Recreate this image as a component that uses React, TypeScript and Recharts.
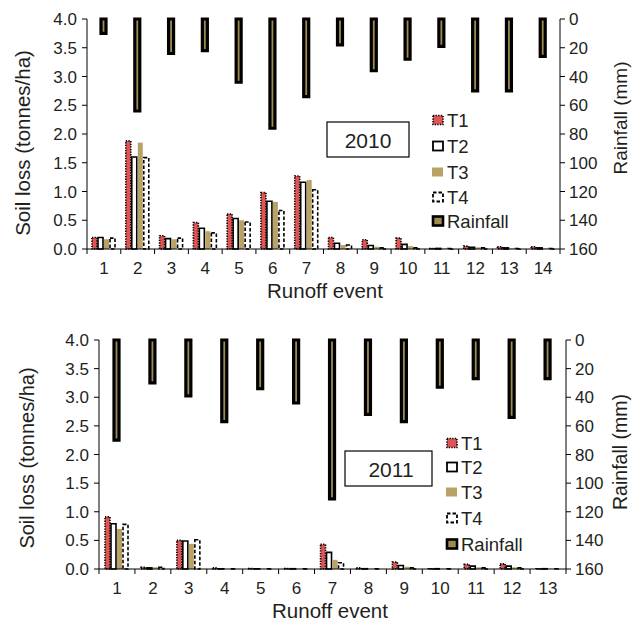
import React from 'react';
import { ComposedChart, Bar, XAxis, YAxis } from 'recharts';

// ---- 2010 season ----
const events2010 = ['1', '2', '3', '4', '5', '6', '7', '8', '9', '10', '11', '12', '13', '14'];
const t1_2010 = [0.2, 1.88, 0.23, 0.46, 0.61, 0.98, 1.27, 0.2, 0.16, 0.19, 0.01, 0.05, 0.04, 0.04];
const t2_2010 = [0.2, 1.6, 0.18, 0.36, 0.53, 0.83, 1.16, 0.1, 0.06, 0.08, 0.01, 0.03, 0.02, 0.02];
const t3_2010 = [0.17, 1.85, 0.17, 0.31, 0.5, 0.82, 1.2, 0.07, 0.04, 0.05, 0.01, 0.03, 0.01, 0.01];
const t4_2010 = [0.19, 1.59, 0.19, 0.28, 0.47, 0.67, 1.03, 0.07, 0.02, 0.02, 0.01, 0.02, 0.01, 0.01];
const rain2010 = [10, 64, 24, 22, 44, 76, 54, 18, 36, 28, 19, 50, 50, 26];

// ---- 2011 season ----
const events2011 = ['1', '2', '3', '4', '5', '6', '7', '8', '9', '10', '11', '12', '13'];
const t1_2011 = [0.91, 0.03, 0.5, 0.02, 0.01, 0.01, 0.43, 0.02, 0.12, 0.005, 0.08, 0.09, 0.005];
const t2_2011 = [0.79, 0.02, 0.49, 0.003, 0.005, 0.005, 0.29, 0.005, 0.06, 0.005, 0.05, 0.05, 0.005];
const t3_2011 = [0.7, 0.03, 0.44, 0.003, 0.005, 0.005, 0.16, 0.005, 0.04, 0.005, 0.03, 0.03, 0.005];
const t4_2011 = [0.78, 0.03, 0.51, 0.003, 0.005, 0.005, 0.11, 0.005, 0.02, 0.005, 0.02, 0.02, 0.005];
const rain2011 = [70, 30, 39, 57, 34, 44, 111, 52, 57, 33, 27, 54, 27];

// axis ticks
const soilTicks = [0, 0.5, 1, 1.5, 2, 2.5, 3, 3.5, 4];
const rainTicks = [0, 20, 40, 60, 80, 100, 120, 140, 160];
const legendNames = ['T1', 'T2', 'T3', 'T4', 'Rainfall'];

const FONT = '"Liberation Sans", Arial, Helvetica, sans-serif';
const INK = '#231f20';
const RED = '#e05454';
const KHAKI = '#b8a265';
const RAIN = '#9f8b4f';

const makeRows = (events: string[], t1: number[], t2: number[], t3: number[], t4: number[], rain: number[]) =>
  events.map((e, i) => ({ event: e, t1: t1[i], t2: t2[i], t3: t3[i], t4: t4[i], rain: rain[i] }));

const rows2010 = makeRows(events2010, t1_2010, t2_2010, t3_2010, t4_2010, rain2010);
const rows2011 = makeRows(events2011, t1_2011, t2_2011, t3_2011, t4_2011, rain2011);

// x ticks sit between the categories, label in the middle
const BoundaryTick = (props: any) => {
  const { x, y, payload, band, count } = props;
  const index = props.index ?? payload.index;
  return (
    <g>
      <line x1={x - band / 2} x2={x - band / 2} y1={y} y2={y + 5} stroke="#000" />
      {index === count - 1 && <line x1={x + band / 2} x2={x + band / 2} y1={y} y2={y + 5} stroke="#000" />}
      <text x={x} y={y + 25} textAnchor="middle" fontSize={17} fill={INK} fontFamily={FONT}>
        {payload.value}
      </text>
    </g>
  );
};

type PanelProps = {
  rows: any[];
  height: number;
  margin: { top: number; right: number; bottom: number; left: number };
};

const Panel = ({ rows, height, margin }: PanelProps) => {
  const plotW = 633 - margin.left - margin.right - 47 - 50;
  const band = plotW / rows.length;
  const tickStyle = { fontSize: 17, fill: INK, fontFamily: FONT };
  return (
    <ComposedChart width={633} height={height} data={rows} margin={margin} barGap={1}>
      <XAxis
        xAxisId="soil"
        dataKey="event"
        height={30}
        interval={0}
        tickLine={false}
        tickSize={0}
        tickMargin={0}
        axisLine={{ stroke: '#000' }}
        tick={<BoundaryTick band={band} count={rows.length} />}
      />
      <XAxis xAxisId="rain" dataKey="event" orientation="top" height={0} tick={false} tickLine={false} axisLine={{ stroke: '#000' }} />
      <YAxis
        yAxisId="soil"
        width={47}
        domain={[0, 4]}
        ticks={soilTicks}
        interval={0}
        tickSize={5}
        tickMargin={5}
        tickFormatter={(v: number) => v.toFixed(1)}
        axisLine={{ stroke: '#000' }}
        tickLine={{ stroke: '#000' }}
        tick={tickStyle}
      />
      <YAxis
        yAxisId="rain"
        orientation="right"
        reversed
        width={50}
        domain={[0, 160]}
        ticks={rainTicks}
        interval={0}
        tickSize={5}
        tickMargin={4}
        axisLine={{ stroke: '#000' }}
        tickLine={{ stroke: '#000' }}
        tick={tickStyle}
      />
      <Bar xAxisId="soil" yAxisId="soil" dataKey="t1" barSize={5} fill={RED} stroke="#000" strokeWidth={1.6} strokeDasharray="1.3 1.3" isAnimationActive={false} />
      <Bar xAxisId="soil" yAxisId="soil" dataKey="t2" barSize={5} fill="#fff" stroke="#000" strokeWidth={1.6} isAnimationActive={false} />
      <Bar xAxisId="soil" yAxisId="soil" dataKey="t3" barSize={5} fill={KHAKI} isAnimationActive={false} />
      <Bar xAxisId="soil" yAxisId="soil" dataKey="t4" barSize={5} fill="#fff" stroke="#000" strokeWidth={1.6} strokeDasharray="3.5 2" isAnimationActive={false} />
      <Bar xAxisId="rain" yAxisId="rain" dataKey="rain" barSize={5} fill={RAIN} stroke="#000" strokeWidth={3.2} isAnimationActive={false} />
    </ComposedChart>
  );
};

const LegendIcon = ({ name, x, cy }: { name: string; x: number; cy: number }) => {
  const y = cy - 4.5;
  if (name === 'T1') return <rect x={x} y={y} width={10} height={9} fill={RED} stroke="#000" strokeWidth={1.6} strokeDasharray="1.3 1.3" />;
  if (name === 'T2') return <rect x={x} y={y} width={10} height={9} fill="#fff" stroke="#000" strokeWidth={1.8} />;
  if (name === 'T3') return <rect x={x - 1} y={y} width={11} height={9} fill={KHAKI} />;
  if (name === 'T4') return <rect x={x} y={y} width={10} height={9} fill="#fff" stroke="#000" strokeWidth={1.8} strokeDasharray="3.5 2" />;
  return <rect x={x} y={y} width={10} height={9} fill={RAIN} stroke="#000" strokeWidth={2.6} />;
};

const Legend = ({ x, ys }: { x: number; ys: number[] }) => (
  <g>
    {legendNames.map((n, i) => (
      <g key={n}>
        <LegendIcon name={n} x={x} cy={ys[i]} />
        <text x={x + 14} y={ys[i]} dominantBaseline="central" fontSize={18.5} fill={INK} fontFamily={FONT}>
          {n}
        </text>
      </g>
    ))}
  </g>
);

const Overlay = () => (
  <svg width={633} height={623} style={{ position: 'absolute', left: 0, top: 0, pointerEvents: 'none' }}>
    {/* top panel texts */}
    <text transform="translate(22,143) rotate(-90)" textAnchor="middle" dominantBaseline="central" fontSize={20.5} fill={INK} fontFamily={FONT}>
      Soil loss (tonnes/ha)
    </text>
    <text transform="translate(620,118) rotate(-90)" textAnchor="middle" dominantBaseline="central" fontSize={19} fill={INK} fontFamily={FONT}>
      Rainfall (mm)
    </text>
    <text x={325} y={298} textAnchor="middle" fontSize={20.5} fill={INK} fontFamily={FONT}>
      Runoff event
    </text>
    <rect x={327} y={122} width={82} height={35} fill="#fff" stroke="#000" strokeWidth={1.2} />
    <text x={368} y={140} textAnchor="middle" dominantBaseline="central" fontSize={21} fill={INK} fontFamily={FONT}>
      2010
    </text>
    <Legend x={433} ys={[120, 146, 172, 197, 221]} />

    {/* bottom panel texts */}
    <text transform="translate(27,458) rotate(-90)" textAnchor="middle" dominantBaseline="central" fontSize={20} fill={INK} fontFamily={FONT}>
      Soil loss (tonnes/ha)
    </text>
    <text transform="translate(620,452) rotate(-90)" textAnchor="middle" dominantBaseline="central" fontSize={19.5} fill={INK} fontFamily={FONT}>
      Rainfall (mm)
    </text>
    <text x={330} y={618} textAnchor="middle" fontSize={20.5} fill={INK} fontFamily={FONT}>
      Runoff event
    </text>
    <rect x={345} y={451} width={87} height={35} fill="#fff" stroke="#000" strokeWidth={1.2} />
    <text x={391} y={469} textAnchor="middle" dominantBaseline="central" fontSize={21} fill={INK} fontFamily={FONT}>
      2011
    </text>
    <Legend x={447} ys={[443, 467, 492, 518, 544]} />
  </svg>
);

export default function App() {
  return (
    <div style={{ position: 'absolute', left: 0, top: 0, width: 633, height: 623, background: '#fff' }}>
      <div style={{ position: 'absolute', left: 0, top: 0 }}>
        <Panel rows={rows2010} height={300} margin={{ top: 19, right: 23, bottom: 21, left: 40 }} />
      </div>
      <div style={{ position: 'absolute', left: 0, top: 320 }}>
        <Panel rows={rows2011} height={303} margin={{ top: 20, right: 17, bottom: 24, left: 52 }} />
      </div>
      <Overlay />
    </div>
  );
}
